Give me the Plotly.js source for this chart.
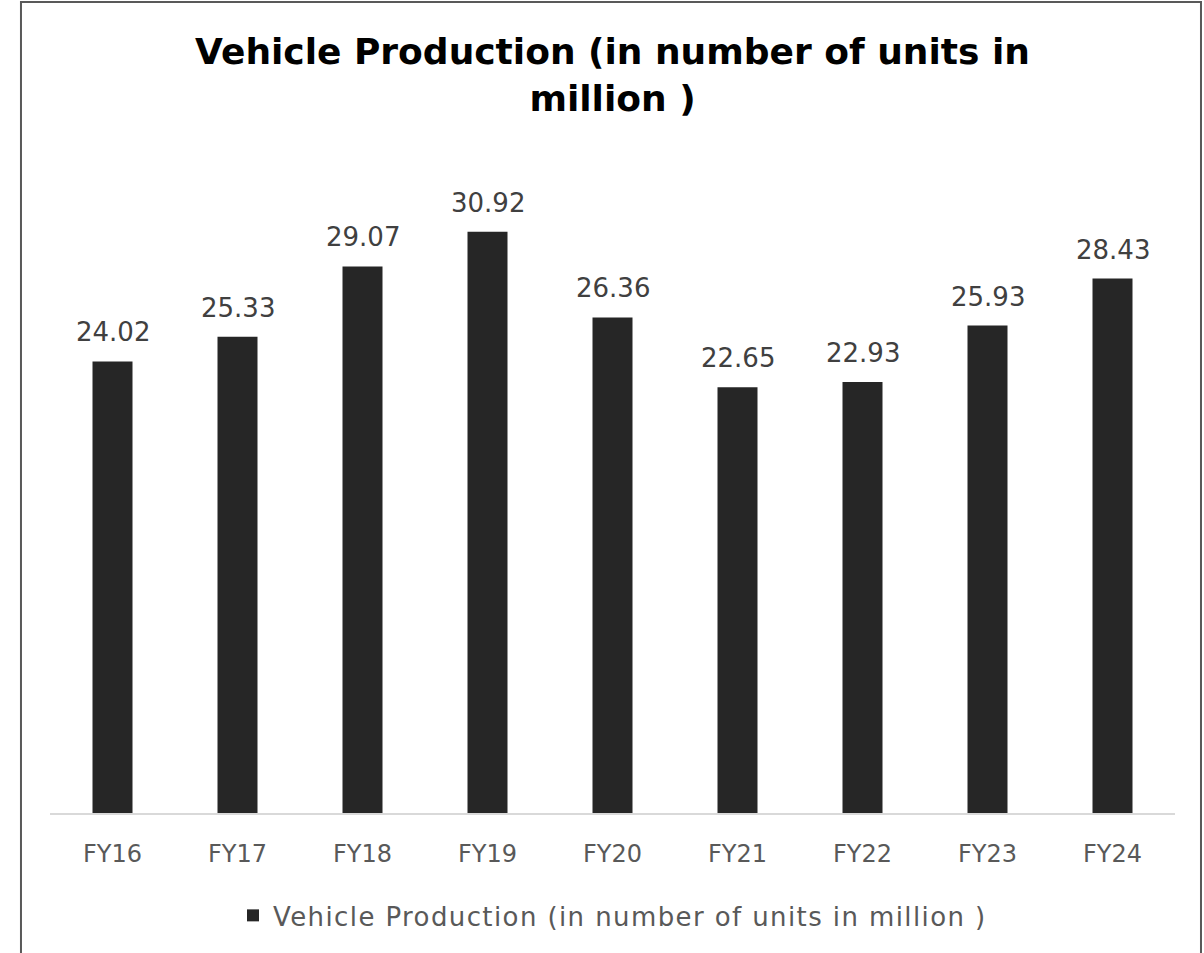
<!DOCTYPE html>
<html>
<head>
<meta charset="utf-8">
<script src="https://cdn.plot.ly/plotly-3.0.1.min.js"></script>
<style>
  html, body { margin: 0; padding: 0; background: #fff; overflow: hidden; }
  #plot { width: 1204px; height: 953px; }
  .legendtext { letter-spacing: 1.4px; }
</style>
</head>
<body>
<div id="plot"></div>
<script>
// fiscal years and production (million units)
var years = ["FY16", "FY17", "FY18", "FY19", "FY20", "FY21", "FY22", "FY23", "FY24"];
var production = [24.02, 25.33, 29.07, 30.92, 26.36, 22.65, 22.93, 25.93, 28.43];
var seriesName = "Vehicle Production (in number of units in million )";

var font = "DejaVu Sans";

var trace1 = {
    x: years,
    y: production,
    name: seriesName,
    type: "bar",
    marker: { color: "#262626" },
    hoverinfo: "none"
};

var data = [trace1];

// value labels above each bar
var labels = years.map((yr, i) => ({
    x: yr,
    y: production[i],
    xref: "x",
    yref: "y",
    text: production[i].toFixed(2),
    showarrow: false,
    yanchor: "bottom",
    yshift: 12,
    font: { family: font, size: 26, color: "#404040" }
}));

var layout = {
    width: 1204,
    height: 953,
    margin: { l: 50, r: 29, t: 155, b: 140 },
    paper_bgcolor: "#ffffff",
    plot_bgcolor: "#ffffff",
    bargap: 0.68,
    title: {
        text: "<b>Vehicle Production (in number of units in<br>million )</b>",
        font: { family: font, size: 36, color: "#000000" },
        x: 0.5,
        xref: "paper",
        y: 0.9325,
        yanchor: "top"
    },
    xaxis: {
        showline: true,
        linecolor: "#d9d9d9",
        linewidth: 2,
        ticks: "outside",
        ticklen: 18,
        tickcolor: "rgba(0,0,0,0)",
        tickfont: { family: font, size: 24, color: "#595959" },
        showgrid: false,
        zeroline: false
    },
    yaxis: {
        range: [0, 35],
        visible: false,
        showgrid: false,
        zeroline: false
    },
    showlegend: true,
    legend: {
        orientation: "h",
        x: 0.5,
        xanchor: "center",
        y: -0.12,
        yanchor: "top",
        font: { family: font, size: 26, color: "#595959" }
    },
    annotations: labels,
    shapes: [{
        type: "rect",
        xref: "paper",
        yref: "paper",
        x0: -0.0258,
        x1: 1.0231,
        y0: -0.3,
        y1: 1.2325,
        line: { color: "#595959", width: 2 },
        fillcolor: "rgba(0,0,0,0)",
        layer: "above"
    }]
};

Plotly.newPlot("plot", data, layout, { displayModeBar: false });
</script>
</body>
</html>
